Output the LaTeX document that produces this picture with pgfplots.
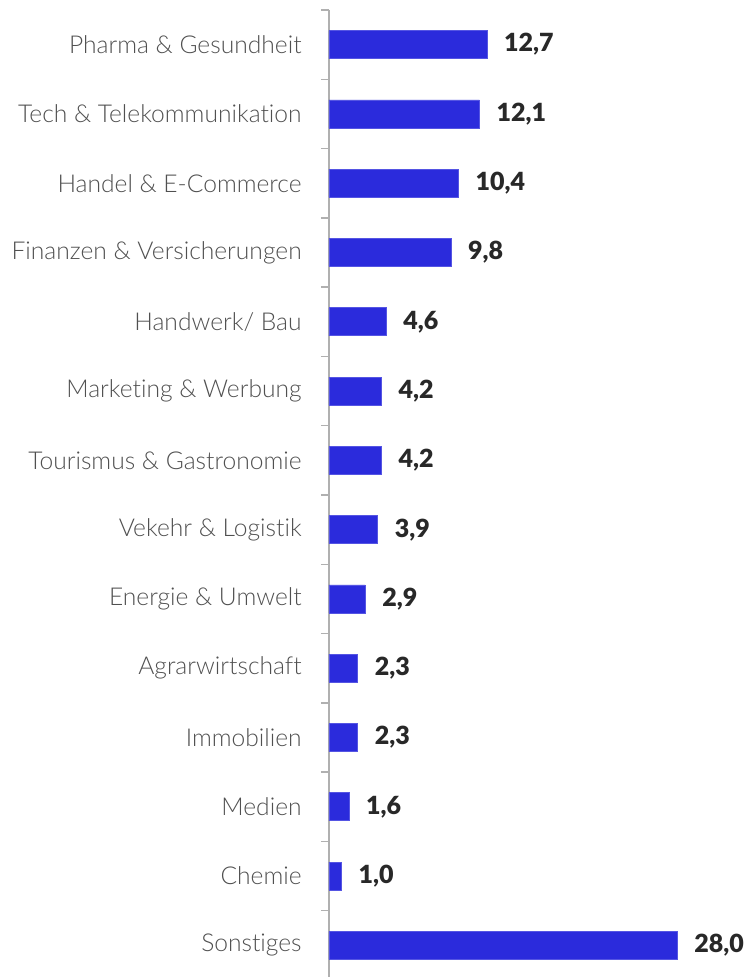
\documentclass[border=0pt]{standalone}
\usepackage{fontspec}
\setmainfont{Lato}
\newfontfamily\latolight[Ligatures=NoCommon]{Lato Light}
\newfontfamily\latoblack{Lato Black}
\usepackage{pgfplots}
\usepackage{pgfplotstable}
\pgfplotsset{compat=1.18}
\definecolor{barblue}{RGB}{43,43,220}
\definecolor{axgray}{RGB}{176,176,176}
\definecolor{labgray}{RGB}{80,80,80}
\definecolor{valdark}{RGB}{40,40,40}
\pgfplotstableread{
idx val
0 12.7
1 12.1
2 10.4
3 9.8
4 4.6
5 4.2
6 4.2
7 3.9
8 2.9
9 2.3
10 2.3
11 1.6
12 1.0
13 28.0
}\data
\begin{document}
\begin{tikzpicture}
\begin{axis}[
  name=ax,
  at={(0,0)}, anchor=south west,
  scale only axis=true,
  width=186.5pt, height=485pt,
  xmin=0, xmax=30,
  ymin=-0.5, ymax=13.5,
  y dir=reverse,
  axis x line=none,
  axis y line*=left,
  y axis line style={draw=axgray, line width=0.75pt},
  ytick={0,...,13},
  yticklabels={Pharma \& Gesundheit, Tech \& Telekommunikation, Handel \& E-Commerce, Finanzen \& Versicherungen, Handwerk/ Bau, Marketing \& Werbung, Tourismus \& Gastronomie, Vekehr \& Logistik, Energie \& Umwelt, Agrarwirtschaft, Immobilien, Medien, Chemie, Sonstiges},
  major tick length=0pt,
  extra y ticks={-0.5,0.5,1.5,2.5,3.5,4.5,5.5,6.5,7.5,8.5,9.5,10.5,11.5,12.5,13.5},
  extra y tick labels={},
  extra y tick style={major tick length=4pt, tick align=outside, tick style={draw=axgray, line width=0.75pt}},
  yticklabel style={font=\latolight\fontsize{12.3}{14}\selectfont, text=labgray, anchor=east, inner sep=0pt, xshift=-13.5pt},
  /pgf/number format/assume math mode=true,
  clip=false,
]
\addplot[xbar, bar width=14pt, fill=barblue, draw=barblue!80!white, line width=0.3pt,
  nodes near coords={\pgfmathprintnumber[fixed, fixed zerofill, precision=1, use comma]{\pgfplotspointmeta}},
  point meta=x,
  every node near coord/.append style={font=\latoblack\fontsize{12.5}{14}\selectfont, text=valdark, anchor=west, inner sep=0pt, xshift=8.5pt},
] table[x=val, y=idx]{\data};
\end{axis}
\pgfresetboundingbox
\path[use as bounding box] ([xshift=-164.5pt, yshift=1.5pt]ax.south west) rectangle ([xshift=207pt, yshift=5pt]ax.north west);
\end{tikzpicture}
\end{document}
